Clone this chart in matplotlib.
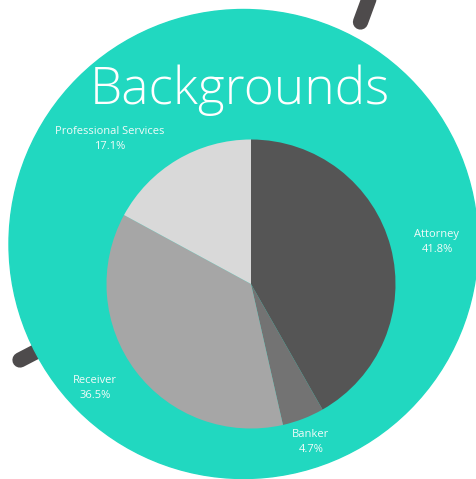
import matplotlib
matplotlib.use("Agg")
import matplotlib.pyplot as plt
from matplotlib.patches import Circle
import numpy as np

categories = ["Attorney", "Banker", "Receiver", "Professional Services"]
values = [41.8, 4.7, 36.5, 17.1]
colors = ["#555555", "#737373", "#a6a6a6", "#d9d9d9"]
title = "Backgrounds"

W, H = 477, 479
fig = plt.figure(figsize=(W / 100, H / 100), dpi=100)
fig.patch.set_facecolor("white")

# background decoration axis in pixel coords
bg = fig.add_axes([0, 0, 1, 1])
bg.set_xlim(0, W)
bg.set_ylim(H, 0)
bg.axis("off")

cx, cy, R = 243.5, 244, 234.5
stick = "#4e4b4c"
bg.plot([cx, 20], [cy, 360], color=stick, lw=11, solid_capstyle="round", zorder=1)
bg.plot([373, 360.5], [-12, 22], color=stick, lw=11, solid_capstyle="round", zorder=1)
bg.add_patch(Circle((cx, cy), R, color="#21d8c0", zorder=2))

bg.text(240, 104, title, color="white", fontsize=37, family="Open Sans",
        fontweight="light", ha="center", va="baseline", zorder=5)

label_pos = [(437, 242), (311, 442), (95, 388), (110, 139)]
for (lx, ly), cat, v in zip(label_pos, categories, values):
    bg.text(lx, ly, f"{cat}\n{v:.1f}%", color="#f2fbf9", fontsize=8,
            family="Open Sans", ha="center", va="center", linespacing=1.45, zorder=5)

# pie axis
pcx, pcy, pr = 251, 284, 144.5
ax = fig.add_axes([(pcx - pr) / W, (H - pcy - pr) / H, 2 * pr / W, 2 * pr / H])
ax.pie(values, colors=colors, startangle=90, counterclock=False, radius=1,
       wedgeprops=dict(linewidth=0))
ax.set_xlim(-1, 1)
ax.set_ylim(-1, 1)
ax.set_aspect("auto")
ax.axis("off")

fig.savefig("out.png", dpi=100, facecolor="white")
